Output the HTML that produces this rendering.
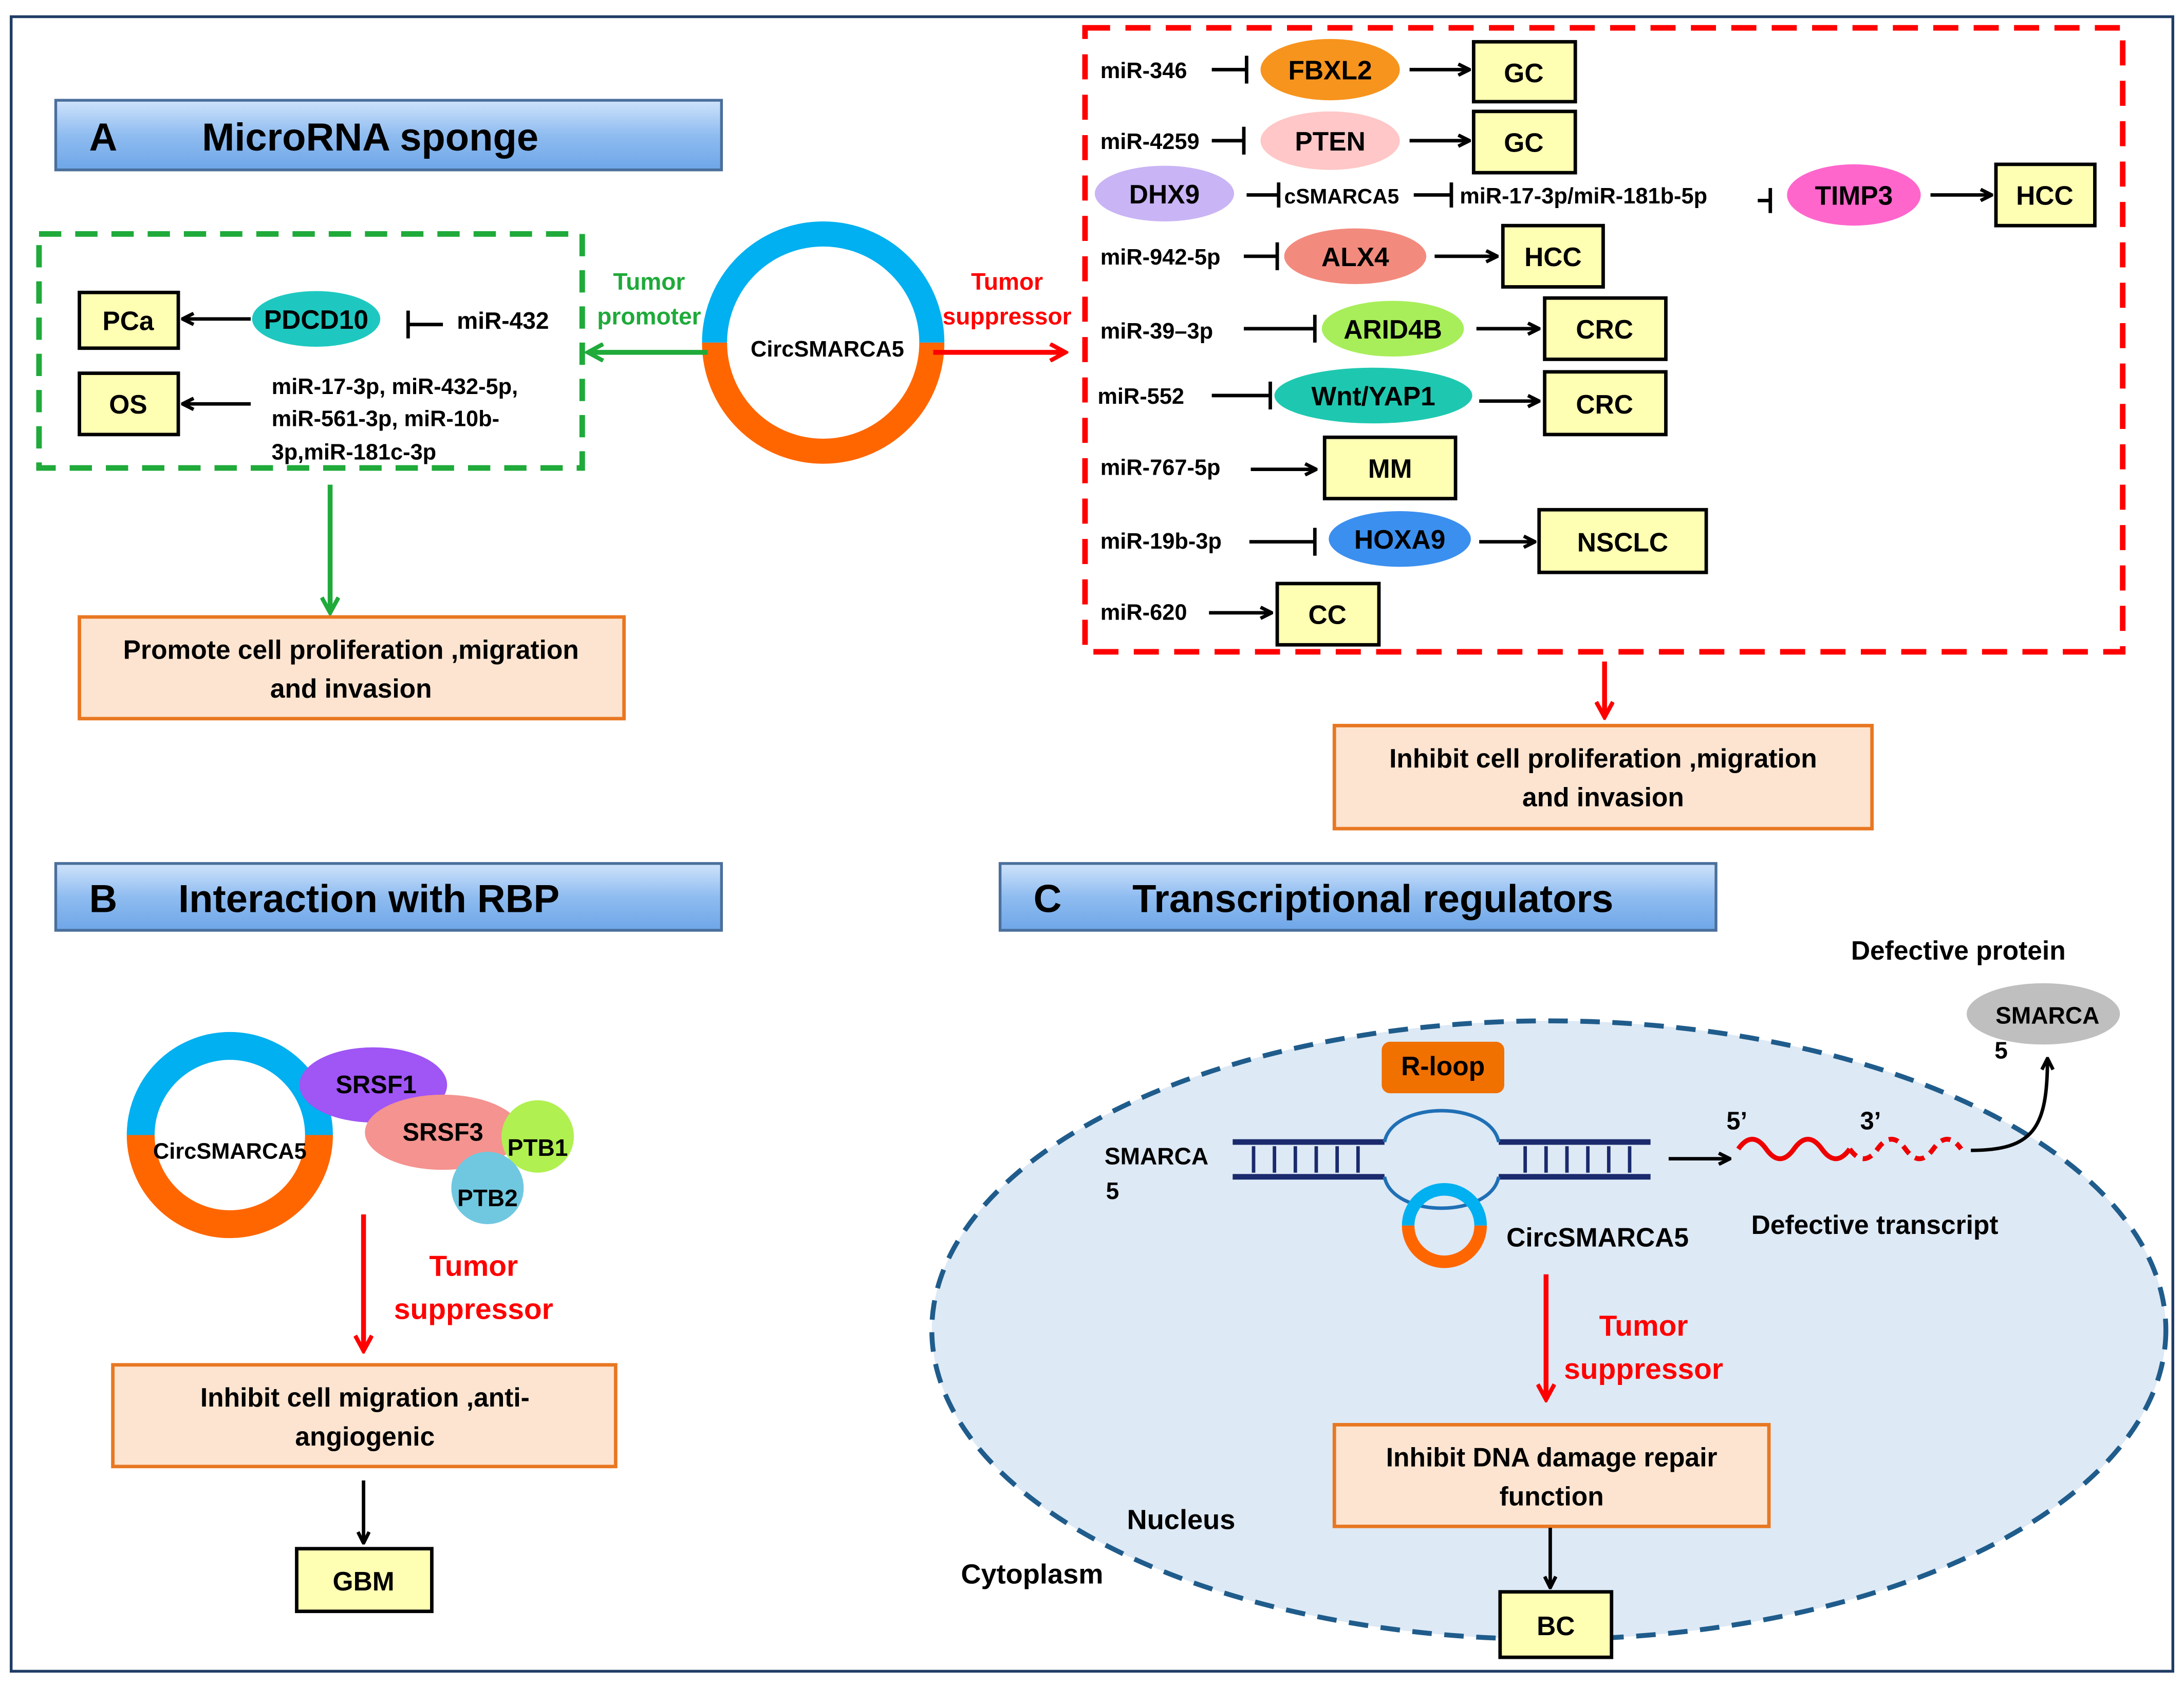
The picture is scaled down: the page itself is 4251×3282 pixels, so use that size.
<!DOCTYPE html>
<html><head><meta charset="utf-8"><style>
html,body{margin:0;padding:0;background:#fff;}
svg{display:block;}
text{font-family:"Liberation Sans",sans-serif;font-weight:bold;}
</style></head><body>
<svg width="4251" height="3282" viewBox="0 0 1568 1210.6" xmlns="http://www.w3.org/2000/svg">
<defs>
<linearGradient id="hg" x1="0" y1="0" x2="0" y2="1">
<stop offset="0" stop-color="#cfe3fb"/><stop offset="0.5" stop-color="#8fbcf0"/><stop offset="1" stop-color="#6ea6e8"/>
</linearGradient>
<marker id="ab" markerWidth="10" markerHeight="10" refX="9" refY="5" orient="auto" markerUnits="userSpaceOnUse"><path d="M1,1 L9,5 L1,9" fill="none" stroke="#000" stroke-width="2.5"/></marker>
<marker id="ar" markerWidth="14" markerHeight="14" refX="12" refY="7" orient="auto" markerUnits="userSpaceOnUse"><path d="M1,1 L12,7 L1,13" fill="none" stroke="#f00" stroke-width="3"/></marker>
<marker id="ag" markerWidth="14" markerHeight="14" refX="12" refY="7" orient="auto" markerUnits="userSpaceOnUse"><path d="M1,1 L12,7 L1,13" fill="none" stroke="#1faa3a" stroke-width="3"/></marker>
</defs>
<rect x="0" y="0" width="1568" height="1211" fill="#fff"/>
<rect x="8" y="12" width="1552" height="1188" fill="none" stroke="#1f3c64" stroke-width="2"/>

<!-- A header -->
<rect x="40" y="72" width="478" height="50" fill="url(#hg)" stroke="#4a6f9c" stroke-width="2"/>
<text x="64" y="108" font-size="28">A</text>
<text x="145" y="108" font-size="28">MicroRNA sponge</text>

<!-- green dashed -->
<rect x="28" y="168" width="390" height="168" fill="none" stroke="#1faa3a" stroke-width="4" stroke-dasharray="16,10"/>
<rect x="57" y="210" width="71" height="40" fill="#ffffb3" stroke="#000" stroke-width="2.5"/>
<text x="92" y="237" font-size="19" text-anchor="middle">PCa</text>
<rect x="57" y="268" width="71" height="44" fill="#ffffb3" stroke="#000" stroke-width="2.5"/>
<text x="92" y="297" font-size="19" text-anchor="middle">OS</text>
<ellipse cx="227" cy="229" rx="46" ry="20" fill="#1ec8c0"/>
<text x="227" y="236" font-size="19" text-anchor="middle">PDCD10</text>
<line x1="180" y1="229" x2="131" y2="229" stroke="#000" stroke-width="2.5" marker-end="url(#ab)"/>
<line x1="318" y1="233" x2="293" y2="233" stroke="#000" stroke-width="2.5"/><line x1="293" y1="223" x2="293" y2="243" stroke="#000" stroke-width="2.5"/>
<text x="328" y="236" font-size="17">miR-432</text>
<line x1="180" y1="290" x2="131" y2="290" stroke="#000" stroke-width="2.5" marker-end="url(#ab)"/>
<text x="195" y="283" font-size="16">miR-17-3p, miR-432-5p,</text>
<text x="195" y="306" font-size="16">miR-561-3p, miR-10b-</text>
<text x="195" y="330" font-size="16">3p,miR-181c-3p</text>
<line x1="237" y1="348" x2="237" y2="440" stroke="#1faa3a" stroke-width="3.5" marker-end="url(#ag)"/>
<rect x="57" y="443" width="391" height="73" fill="#fde4d0" stroke="#e87722" stroke-width="2.5"/>
<text x="252" y="473" font-size="19" text-anchor="middle">Promote cell proliferation ,migration</text>
<text x="252" y="501" font-size="19" text-anchor="middle">and invasion</text>

<!-- central circle -->
<path d="M513,246 A78,78 0 0 1 669,246" fill="none" stroke="#00b0f0" stroke-width="18"/>
<path d="M513,246 A78,78 0 0 0 669,246" fill="none" stroke="#ff6600" stroke-width="18"/>
<text x="594" y="256" font-size="16" text-anchor="middle">CircSMARCA5</text>
<text x="466" y="208" font-size="17" fill="#1faa3a" text-anchor="middle">Tumor</text>
<text x="466" y="233" font-size="17" fill="#1faa3a" text-anchor="middle">promoter</text>
<line x1="508" y1="253" x2="422" y2="253" stroke="#1faa3a" stroke-width="3.5" marker-end="url(#ag)"/>
<text x="723" y="208" font-size="17" fill="#f00" text-anchor="middle">Tumor</text>
<text x="723" y="233" font-size="17" fill="#f00" text-anchor="middle">suppressor</text>
<line x1="670" y1="253" x2="765" y2="253" stroke="#f00" stroke-width="3.5" marker-end="url(#ar)"/>

<!-- red dashed -->
<rect x="779" y="20" width="745" height="448" fill="none" stroke="#f00" stroke-width="4" stroke-dasharray="18,11"/>
<g font-size="16">
<!-- row1 -->
<text x="790" y="56">miR-346</text>
<line x1="870" y1="50" x2="895" y2="50" stroke="#000" stroke-width="2.5"/><line x1="895" y1="40" x2="895" y2="60" stroke="#000" stroke-width="2.5"/>
<ellipse cx="955" cy="50" rx="50" ry="22" fill="#f7941d"/><text x="955" y="57" font-size="19" text-anchor="middle">FBXL2</text>
<line x1="1012" y1="50" x2="1055" y2="50" stroke="#000" stroke-width="2.5" marker-end="url(#ab)"/>
<rect x="1058" y="30" width="73" height="43" fill="#ffffb3" stroke="#000" stroke-width="2.5"/><text x="1094" y="59" font-size="19" text-anchor="middle">GC</text>
<!-- row2 -->
<text x="790" y="107">miR-4259</text>
<line x1="870" y1="101" x2="893" y2="101" stroke="#000" stroke-width="2.5"/><line x1="893" y1="91" x2="893" y2="111" stroke="#000" stroke-width="2.5"/>
<ellipse cx="955" cy="101" rx="50" ry="21" fill="#ffc7c7"/><text x="955" y="108" font-size="19" text-anchor="middle">PTEN</text>
<line x1="1012" y1="101" x2="1055" y2="101" stroke="#000" stroke-width="2.5" marker-end="url(#ab)"/>
<rect x="1058" y="80" width="73" height="44" fill="#ffffb3" stroke="#000" stroke-width="2.5"/><text x="1094" y="109" font-size="19" text-anchor="middle">GC</text>
<!-- row3 -->
<ellipse cx="836" cy="139" rx="50" ry="20" fill="#c9b4f5"/><text x="836" y="146" font-size="19" text-anchor="middle">DHX9</text>
<line x1="895" y1="140" x2="918" y2="140" stroke="#000" stroke-width="2.5"/><line x1="918" y1="131" x2="918" y2="149" stroke="#000" stroke-width="2.5"/>
<text x="922" y="146" font-size="15">cSMARCA5</text>
<line x1="1015" y1="140" x2="1042" y2="140" stroke="#000" stroke-width="2.5"/><line x1="1042" y1="131" x2="1042" y2="149" stroke="#000" stroke-width="2.5"/>
<text x="1048" y="146" font-size="16">miR-17-3p/miR-181b-5p</text>
<line x1="1262" y1="144" x2="1271" y2="144" stroke="#000" stroke-width="2.5"/><line x1="1271" y1="135" x2="1271" y2="153" stroke="#000" stroke-width="2.5"/>
<ellipse cx="1331" cy="140" rx="48" ry="22" fill="#ff66cc"/><text x="1331" y="147" font-size="19" text-anchor="middle">TIMP3</text>
<line x1="1386" y1="140" x2="1430" y2="140" stroke="#000" stroke-width="2.5" marker-end="url(#ab)"/>
<rect x="1433" y="118" width="71" height="44" fill="#ffffb3" stroke="#000" stroke-width="2.5"/><text x="1468" y="147" font-size="19" text-anchor="middle">HCC</text>
<!-- row4 -->
<text x="790" y="190">miR-942-5p</text>
<line x1="893" y1="184" x2="917" y2="184" stroke="#000" stroke-width="2.5"/><line x1="917" y1="174" x2="917" y2="194" stroke="#000" stroke-width="2.5"/>
<ellipse cx="973" cy="184" rx="51" ry="20" fill="#f28b7e"/><text x="973" y="191" font-size="19" text-anchor="middle">ALX4</text>
<line x1="1030" y1="184" x2="1075" y2="184" stroke="#000" stroke-width="2.5" marker-end="url(#ab)"/>
<rect x="1079" y="162" width="72" height="44" fill="#ffffb3" stroke="#000" stroke-width="2.5"/><text x="1115" y="191" font-size="19" text-anchor="middle">HCC</text>
<!-- row5 -->
<text x="790" y="243">miR-39–3p</text>
<line x1="893" y1="236" x2="944" y2="236" stroke="#000" stroke-width="2.5"/><line x1="944" y1="226" x2="944" y2="246" stroke="#000" stroke-width="2.5"/>
<ellipse cx="1000" cy="236" rx="51" ry="20" fill="#a8ee5a"/><text x="1000" y="243" font-size="19" text-anchor="middle">ARID4B</text>
<line x1="1060" y1="236" x2="1105" y2="236" stroke="#000" stroke-width="2.5" marker-end="url(#ab)"/>
<rect x="1109" y="214" width="87" height="44" fill="#ffffb3" stroke="#000" stroke-width="2.5"/><text x="1152" y="243" font-size="19" text-anchor="middle">CRC</text>
<!-- row6 -->
<text x="788" y="290">miR-552</text>
<line x1="870" y1="284" x2="912" y2="284" stroke="#000" stroke-width="2.5"/><line x1="912" y1="274" x2="912" y2="294" stroke="#000" stroke-width="2.5"/>
<ellipse cx="986" cy="284" rx="71" ry="20" fill="#1ec8b0"/><text x="986" y="291" font-size="19" text-anchor="middle">Wnt/YAP1</text>
<line x1="1062" y1="288" x2="1105" y2="288" stroke="#000" stroke-width="2.5" marker-end="url(#ab)"/>
<rect x="1109" y="267" width="87" height="45" fill="#ffffb3" stroke="#000" stroke-width="2.5"/><text x="1152" y="297" font-size="19" text-anchor="middle">CRC</text>
<!-- row7 -->
<text x="790" y="341">miR-767-5p</text>
<line x1="898" y1="337" x2="945" y2="337" stroke="#000" stroke-width="2.5" marker-end="url(#ab)"/>
<rect x="951" y="314" width="94" height="44" fill="#ffffb3" stroke="#000" stroke-width="2.5"/><text x="998" y="343" font-size="19" text-anchor="middle">MM</text>
<!-- row8 -->
<text x="790" y="394">miR-19b-3p</text>
<line x1="897" y1="389" x2="944" y2="389" stroke="#000" stroke-width="2.5"/><line x1="944" y1="379" x2="944" y2="399" stroke="#000" stroke-width="2.5"/>
<ellipse cx="1005" cy="387" rx="51" ry="20" fill="#3b8fef"/><text x="1005" y="394" font-size="19" text-anchor="middle">HOXA9</text>
<line x1="1062" y1="389" x2="1102" y2="389" stroke="#000" stroke-width="2.5" marker-end="url(#ab)"/>
<rect x="1105" y="366" width="120" height="45" fill="#ffffb3" stroke="#000" stroke-width="2.5"/><text x="1165" y="396" font-size="19" text-anchor="middle">NSCLC</text>
<!-- row9 -->
<text x="790" y="445">miR-620</text>
<line x1="868" y1="440" x2="913" y2="440" stroke="#000" stroke-width="2.5" marker-end="url(#ab)"/>
<rect x="917" y="419" width="73" height="44" fill="#ffffb3" stroke="#000" stroke-width="2.5"/><text x="953" y="448" font-size="19" text-anchor="middle">CC</text>
</g>
<line x1="1152" y1="475" x2="1152" y2="515" stroke="#f00" stroke-width="3.5" marker-end="url(#ar)"/>
<rect x="958" y="521" width="386" height="74" fill="#fde4d0" stroke="#e87722" stroke-width="2.5"/>
<text x="1151" y="551" font-size="19" text-anchor="middle">Inhibit cell proliferation ,migration</text>
<text x="1151" y="579" font-size="19" text-anchor="middle">and invasion</text>

<!-- B -->
<rect x="40" y="620" width="478" height="48" fill="url(#hg)" stroke="#4a6f9c" stroke-width="2"/>
<text x="64" y="655" font-size="28">B</text>
<text x="128" y="655" font-size="28">Interaction with RBP</text>
<path d="M101,815 A64,64 0 0 1 229,815" fill="none" stroke="#00b0f0" stroke-width="20"/>
<path d="M101,815 A64,64 0 0 0 229,815" fill="none" stroke="#ff6600" stroke-width="20"/>
<text x="165" y="832" font-size="16" text-anchor="middle">CircSMARCA5</text>
<ellipse cx="268" cy="779" rx="53" ry="27" fill="#a055f5"/><text x="270" y="785" font-size="18" text-anchor="middle">SRSF1</text>
<ellipse cx="318" cy="813" rx="56" ry="27" fill="#f4938f"/><text x="318" y="819" font-size="18" text-anchor="middle">SRSF3</text>
<circle cx="386" cy="816" r="26" fill="#b0f050"/><text x="386" y="830" font-size="17" text-anchor="middle">PTB1</text>
<circle cx="350" cy="853" r="26" fill="#70c8e0"/><text x="350" y="866" font-size="17" text-anchor="middle">PTB2</text>
<line x1="261" y1="872" x2="261" y2="970" stroke="#f00" stroke-width="3.5" marker-end="url(#ar)"/>
<text x="340" y="916" font-size="21" fill="#f00" text-anchor="middle">Tumor</text>
<text x="340" y="947" font-size="21" fill="#f00" text-anchor="middle">suppressor</text>
<rect x="81" y="980" width="361" height="73" fill="#fde4d0" stroke="#e87722" stroke-width="2.5"/>
<text x="262" y="1010" font-size="19" text-anchor="middle">Inhibit cell migration ,anti-</text>
<text x="262" y="1038" font-size="19" text-anchor="middle">angiogenic</text>
<line x1="261" y1="1063" x2="261" y2="1108" stroke="#000" stroke-width="2.5" marker-end="url(#ab)"/>
<rect x="213" y="1112" width="97" height="45" fill="#ffffb3" stroke="#000" stroke-width="2.5"/><text x="261" y="1142" font-size="19" text-anchor="middle">GBM</text>

<!-- C -->
<rect x="718" y="620" width="514" height="48" fill="url(#hg)" stroke="#4a6f9c" stroke-width="2"/>
<text x="742" y="655" font-size="28">C</text>
<text x="813" y="655" font-size="28">Transcriptional regulators</text>
<ellipse cx="1112" cy="955" rx="443" ry="222" fill="#dde9f5" stroke="#1f5c8b" stroke-width="3.5" stroke-dasharray="14,9"/>
<text x="1406" y="689" font-size="19" text-anchor="middle">Defective protein</text>
<ellipse cx="1467" cy="728" rx="55" ry="22" fill="#bfbfbf"/>
<text x="1470" y="735" font-size="17" text-anchor="middle">SMARCA</text>
<text x="1432" y="760" font-size="17">5</text>
<rect x="992" y="748" width="88" height="37" rx="6" fill="#f07000"/>
<text x="1036" y="772" font-size="19" text-anchor="middle">R-loop</text>
<text x="793" y="836" font-size="17">SMARCA</text>
<text x="794" y="861" font-size="17">5</text>
<g stroke="#1a2a6c" stroke-width="4" fill="none">
<line x1="885" y1="820" x2="994" y2="820"/><line x1="1076" y1="820" x2="1185" y2="820"/>
<line x1="885" y1="845" x2="994" y2="845"/><line x1="1076" y1="845" x2="1185" y2="845"/>
<path d="M994,820 C1000,790 1070,790 1076,820" stroke="#1f6fb5" stroke-width="2.5"/>
<path d="M994,845 C1000,875 1070,875 1076,845" stroke="#1f6fb5" stroke-width="2.5"/>
</g>
<g stroke="#1a2a6c" stroke-width="2.5">
<line x1="900" y1="823" x2="900" y2="842"/><line x1="915" y1="823" x2="915" y2="842"/><line x1="930" y1="823" x2="930" y2="842"/><line x1="945" y1="823" x2="945" y2="842"/><line x1="960" y1="823" x2="960" y2="842"/><line x1="975" y1="823" x2="975" y2="842"/>
<line x1="1095" y1="823" x2="1095" y2="842"/><line x1="1110" y1="823" x2="1110" y2="842"/><line x1="1125" y1="823" x2="1125" y2="842"/><line x1="1140" y1="823" x2="1140" y2="842"/><line x1="1155" y1="823" x2="1155" y2="842"/><line x1="1170" y1="823" x2="1170" y2="842"/>
</g>
<path d="M1011,880 A26,26 0 0 1 1063,880" fill="none" stroke="#00b0f0" stroke-width="9"/>
<path d="M1011,880 A26,26 0 0 0 1063,880" fill="none" stroke="#ff6600" stroke-width="9"/>
<text x="1147" y="895" font-size="19" text-anchor="middle">CircSMARCA5</text>
<line x1="1198" y1="832" x2="1242" y2="832" stroke="#000" stroke-width="2.5" marker-end="url(#ab)"/>
<path d="M1248,825 q10,-14 20,0 t20,0 t20,0 t20,0" fill="none" stroke="#e00" stroke-width="3.5"/>
<path d="M1328,825 q10,14 20,0 t20,0 t20,0 t20,0" fill="none" stroke="#e00" stroke-width="3.5" stroke-dasharray="7,5"/>
<text x="1247" y="811" font-size="18" text-anchor="middle">5’</text>
<text x="1343" y="811" font-size="18" text-anchor="middle">3’</text>
<path d="M1415,826 C1460,826 1470,810 1470,760" fill="none" stroke="#000" stroke-width="2.5" marker-end="url(#ab)"/>
<text x="1346" y="886" font-size="19" text-anchor="middle">Defective transcript</text>
<line x1="1110" y1="915" x2="1110" y2="1005" stroke="#f00" stroke-width="3.5" marker-end="url(#ar)"/>
<text x="1180" y="959" font-size="21" fill="#f00" text-anchor="middle">Tumor</text>
<text x="1180" y="990" font-size="21" fill="#f00" text-anchor="middle">suppressor</text>
<rect x="958" y="1023" width="312" height="73" fill="#fde4d0" stroke="#e87722" stroke-width="2.5"/>
<text x="1114" y="1053" font-size="19" text-anchor="middle">Inhibit DNA damage repair</text>
<text x="1114" y="1081" font-size="19" text-anchor="middle">function</text>
<line x1="1113" y1="1097" x2="1113" y2="1140" stroke="#000" stroke-width="2.5" marker-end="url(#ab)"/>
<rect x="1077" y="1143" width="80" height="47" fill="#ffffb3" stroke="#000" stroke-width="2.5"/><text x="1117" y="1174" font-size="19" text-anchor="middle">BC</text>
<text x="848" y="1098" font-size="20" text-anchor="middle">Nucleus</text>
<text x="741" y="1137" font-size="20" text-anchor="middle">Cytoplasm</text>
</svg>
</body></html>
